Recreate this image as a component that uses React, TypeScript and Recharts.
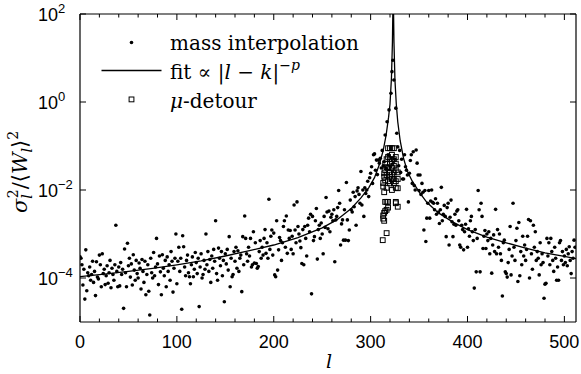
import React from "react";
import { ComposedChart, Scatter, Line, XAxis, YAxis, Legend } from "recharts";

const W = 581;
const H = 374;

// log10 of sigma_l^2/<W_l>^2 from mass interpolation, one value per l
const massLogA = [
  -3.52, -3.55, -3.7, -4.16, -3.8, -4.48, -3.36, -4.29, -3.88, -3.95,
  -3.75, -4.05, -3.92, -3.62, -4.1, -3.85, -4.4, -3.63, -3.98, -4.02,
  -3.48, -3.7, -4.2, -3.45, -3.9, -3.8, -4.15, -3.95, -3.72, -4.12,
  -3.88, -3.6, -4.22, -3.78, -3.92, -4.05, -3.7, -2.8, -3.85, -4.2,
  -3.75, -4.18, -3.65, -3.92, -3.8, -4.69, -3.34, -3.88, -4.2, -3.21,
  -3.72, -3.55, -3.98, -3.68, -4.16, -3.47, -3.82, -4.05, -3.6, -3.9,
  -4.0, -3.66, -3.78, -4.25, -3.58, -3.85, -4.1, -3.62, -4.38, -3.92,
  -3.7, -4.3, -4.84, -3.55, -3.88, -4.0, -3.42, -3.95, -3.75, -3.1,
  -3.68, -4.15, -3.5, -3.86, -4.38, -3.47, -3.78, -3.95, -3.6, -4.2,
  -3.52, -3.85, -3.7, -4.05, -3.4, -3.62, -4.32, -3.78, -3.55, -3.0,
  -4.13, -3.62, -3.3, -3.85, -3.55, -4.71, -3.04, -3.29, -3.75, -3.95,
  -3.6, -3.48, -3.88, -3.97, -4.13, -3.7, -3.52, -3.97, -3.8, -3.42,
  -3.65, -3.9, -3.55, -4.65, -3.75, -3.45, -4.0, -3.92, -3.6, -3.8,
  -3.0, -3.7, -3.4, -3.85, -3.58, -4.1, -3.5, -3.78, -3.35, -3.62,
  -2.7, -3.9, -4.05, -3.32, -3.55, -3.72, -3.4, -3.95, -3.6, -4.54,
  -3.45, -3.68, -3.35, -3.82, -3.06, -4.2, -3.55, -3.97, -3.92, -3.4,
  -3.62, -3.3, -3.78, -3.38, -3.85, -3.55, -3.48, -4.31, -3.06, -3.7,
  -2.59, -3.1, -3.45, -3.62, -3.3, -3.5, -3.1, -3.75, -3.7, -2.95,
  -3.66, -3.2, -3.67, -3.78, -3.74, -3.4, -3.15, -3.55, -3.3, -3.48,
  -3.1, -2.9, -3.44, -3.2, -3.55, -2.21, -3.35, -3.05, -2.91, -3.48,
  -2.98, -3.93, -3.97, -2.7, -3.82, -3.36, -3.08, -3.15, -3.6, -3.2,
  -2.83, -2.7, -3.3, -2.59, -3.44, -2.91, -3.1, -2.92, -3.35, -3.05,
  -3.45, -2.34, -2.91, -3.2, -2.27, -2.83, -3.0, -3.16, -3.31, -3.67,
  -2.9, -3.7, -2.83, -3.1, -3.5, -2.8, -2.64, -2.95, -2.55, -4.36,
  -2.6, -3.15, -3.06, -2.7, -2.42, -3.57, -2.9, -2.8, -3.1, -2.75,
  -3.0, -3.45, -2.6, -2.85, -2.17, -2.5, -2.88, -2.48, -2.95, -2.62,
  -2.55, -2.7, -2.45, -3.63, -2.68, -2.6, -2.4, -2.01, -2.3, -3.25,
  -2.77, -2.68, -3.14, -2.45, -3.14, -1.83, -2.68, -3.15, -2.91, -2.23,
  -2.45, -2.5, -2.05, -2.38, -2.15, -2.8, -2.02, -1.95, -2.1, -2.3,
  -1.58, -2.34, -2.0, -2.6, -1.95, -2.08, -2.0, -1.8, -2.15, -1.72,
];
const massLogB = [
  -1.62, -1.47, -1.85, -1.2, -1.18, -1.55, -1.32, -1.65, -1.32, -1.39,
  -1.28, -1.5, -1.1, -1.45, -1.36, -0.75,
  -1.5, -0.45, -1.2, -0.18, -1.45, 0.2, 0.69, 0.95, 0.5, -1.3, -0.14, -0.71, -1.02, -1.45, -1.1, -1.6,
  -1.3, -1.75, -1.75, -1.2, -1.47, -1.55, -1.66, -2.27,
  -1.62, -1.33, -1.2, -1.85, -1.13, -1.9, -2.0, -1.09, -1.39, -1.66,
];
const massLogC = [
  -2.01, -1.66, -2.1, -1.85, -2.05, -2.91, -2.01, -3.17, -2.64, -2.3,
  -2.01, -2.64, -2.25, -2.0, -2.28, -2.3, -2.45, -2.2, -2.55, -2.3,
  -2.5, -2.76, -2.45, -1.94, -2.7, -2.55, -2.35, -2.6, -3.06, -2.4,
  -2.3, -3.25, -2.62, -2.23, -2.72, -3.06, -2.78, -2.55, -2.8, -2.48,
  -2.45, -2.7, -3.25, -3.3, -2.8, -2.9, -3.36, -2.95, -2.78, -2.44,
  -3.3, -2.88, -3.05, -2.7, -2.6, -2.95, -3.15, -4.23, -2.9, -3.86,
  -3.1, -2.01, -2.45, -3.86, -2.3, -2.6, -3.33, -3.05, -2.92, -3.33,
  -3.0, -3.15, -2.95, -3.45, -3.1, -3.89, -3.25, -3.02, -3.4, -2.44,
  -3.45, -2.9, -3.3, -3.0, -3.45, -3.6, -4.41, -3.2, -3.14, -3.86,
  -3.9, -3.98, -3.65, -3.35, -2.83, -3.93, -3.5, -2.3, -3.3, -3.6,
  -3.15, -2.87, -4.08, -2.74, -3.95, -3.4, -3.7, -3.05, -3.5, -3.25,
  -3.6, -3.35, -3.05, -2.67, -4.0, -2.7, -3.45, -3.8, -2.8, -3.3,
  -2.95, -3.6, -3.4, -3.55, -3.93, -3.2, -3.7, -3.45, -3.65, -4.46,
  -4.14, -4.12, -3.1, -3.5, -3.2, -3.7, -3.1, -3.4, -3.6, -3.85,
  -3.3, -3.55, -4.05, -3.75, -4.05, -3.2, -3.15, -3.6, -3.4, -3.7,
  -3.5, -3.65, -3.35, -3.72, -3.45, -3.29, -3.6, -3.9, -3.4, -3.55, -3.14, -3.3,
];

// fit line: [l, log10 value]
const fitPoints: [number, number][] = [
  [0, -3.97], [25, -3.91], [50, -3.85], [75, -3.78], [100, -3.7], [125, -3.61],
  [150, -3.5], [175, -3.38], [200, -3.25], [225, -3.08], [250, -2.86], [265, -2.68],
  [280, -2.42], [290, -2.18], [298, -1.95], [304, -1.72], [309, -1.42], [313, -1.1],
  [316, -0.75], [318.5, -0.35], [320, -0.05], [321.5, 0.55], [322.5, 1.35], [323.3, 2.6],
  [324.1, 1.35], [325.1, 0.5], [326.5, -0.05], [328, -0.45], [330.5, -0.88], [334, -1.28],
  [338, -1.58], [343, -1.8], [350, -2.04], [358, -2.28], [370, -2.52], [385, -2.73],
  [400, -2.9], [420, -3.07], [440, -3.2], [460, -3.32], [480, -3.43], [500, -3.51], [512, -3.56],
];

// mu-detour squares: [l, log10 value]
const detourPoints: [number, number][] = [
  [312.5, -3.14], [313, -2.65], [313, -2.58], [313, -1.84], [313, -1.92],
  [314, -2.7], [314, -2.52], [314, -2.05], [314, -1.7], [314, -1.62],
  [315, -2.27], [315, -2.48], [315, -1.78], [315, -1.55], [315, -1.4],
  [316.5, -2.98], [316.5, -2.45], [316.5, -2.27], [316.5, -1.95], [316.5, -1.66], [316.5, -1.3], [316.5, -1.48],
  [318, -2.27], [318, -2.4], [318, -1.8], [318, -1.5], [318, -1.25], [318, -1.05],
  [320, -1.05], [320, -1.4], [320, -1.6], [320, -1.85], [320, -1.7], [320, -1.3],
  [322, -1.05], [322, -1.5], [322, -1.65], [322, -1.35], [322, -1.2], [322, -1.75], [322, -2.0],
  [324, -1.05], [324, -1.3], [324, -1.45], [324, -1.6], [324, -1.85], [324, -1.75],
  [326, -2.3], [326, -2.27], [326, -1.95], [326, -1.8], [326, -1.55], [326, -1.4], [326, -1.25],
  [328, -2.38], [328, -1.96], [328, -1.75], [328, -1.6],
];

const xTicks = [0, 20, 40, 60, 80, 100, 120, 140, 160, 180, 200, 220, 240, 260, 280, 300, 320, 340, 360, 380, 400, 420, 440, 460, 480, 500];
const yTicks = [100, 1, 0.01, 0.0001];
const yExp: Record<string, string> = { "100": "2", "1": "0", "0.01": "\u22122", "0.0001": "\u22124" };

const massData = [...massLogA, ...massLogB, ...massLogC].map((L, i) => ({ l: i, v: Math.pow(10, L) }));
const fitData = fitPoints.map(([l, L]) => ({ l, v: Math.pow(10, L) }));
const detourData = detourPoints.map(([l, L]) => ({ l, v: Math.pow(10, L) }));

const SANS = "Liberation Sans, Arial, Helvetica, sans-serif";
const SERIF = "DejaVu Serif, Liberation Serif, serif";
const serif = { fontFamily: SERIF };

const BottomTick = (p: any) => {
  const { x, y, payload } = p;
  const major = payload.value % 100 === 0;
  return (
    <g>
      <line x1={x} x2={x} y1={y} y2={y - (major ? 6 : 3.5)} stroke="#000" strokeWidth={1} />
      {major && (
        <text x={x} y={y + 26} textAnchor="middle" style={{ fontFamily: SANS }} fontSize={18} fill="#000">
          {payload.value}
        </text>
      )}
    </g>
  );
};

const TopTick = (p: any) => {
  const { x, y, payload } = p;
  const major = payload.value % 100 === 0;
  return <line x1={x} x2={x} y1={y} y2={y + (major ? 6 : 3.5)} stroke="#000" strokeWidth={1} />;
};

const LeftTick = (p: any) => {
  const { x, y, payload } = p;
  return (
    <g>
      <line x1={x} x2={x + 6} y1={y} y2={y} stroke="#000" strokeWidth={1} />
      <text x={x - 42} y={y + 7} style={{ fontFamily: SANS }} fontSize={18} fill="#000">
        10
        <tspan dy={-8} fontSize={13}>
          {yExp[String(payload.value)]}
        </tspan>
      </text>
    </g>
  );
};

const RightTick = (p: any) => {
  const { x, y } = p;
  return <line x1={x} x2={x - 6} y1={y} y2={y} stroke="#000" strokeWidth={1} />;
};

const YLabel = () => (
  <text transform="translate(27,213) rotate(-90)" style={serif} fontSize={21} fill="#000">
    <tspan fontStyle="italic">σ</tspan>
    <tspan fontSize={14} fontStyle="italic" dy={5}>l</tspan>
    <tspan fontSize={14} dx={-4} dy={-14}>2</tspan>
    <tspan dy={9}>/⟨</tspan>
    <tspan fontStyle="italic">W</tspan>
    <tspan fontSize={14} fontStyle="italic" dy={5}>l</tspan>
    <tspan dy={-5}>⟩</tspan>
    <tspan fontSize={14} dy={-9}>2</tspan>
  </text>
);

const XLabel = () => (
  <text x={329} y={368} textAnchor="middle" style={serif} fontStyle="italic" fontSize={19} fill="#000">
    l
  </text>
);

const MassDot = (p: any) => <circle cx={p.cx} cy={p.cy} r={1.8} fill="#000" />;
const DetourSquare = (p: any) => (
  <rect x={p.cx - 2.4} y={p.cy - 2.4} width={4.8} height={4.8} fill="none" stroke="#000" strokeWidth={1} />
);

const LegendBox = () => (
  <svg width={W} height={120} style={{ display: "block", overflow: "visible" }}>
    <g style={serif} fontSize={20} fill="#000">
      <circle cx={131.5} cy={42.5} r={1.8} fill="#000" />
      <text x={170} y={50} style={serif}>mass interpolation</text>
      <line x1={101.5} x2={161.5} y1={70.5} y2={70.5} stroke="#000" strokeWidth={1.3} />
      <text x={170} y={79} style={serif}>
        fit ∝ |<tspan fontStyle="italic">l</tspan> − <tspan fontStyle="italic">k</tspan>|
        <tspan dy={-9} fontSize={14}>
          −<tspan fontStyle="italic">p</tspan>
        </tspan>
      </text>
      <rect x={129.1} y={97} width={4.8} height={4.8} fill="none" stroke="#000" strokeWidth={1} />
      <text x={170} y={108} style={serif}>
        <tspan fontStyle="italic">μ</tspan>-detour
      </text>
    </g>
  </svg>
);

export default function App() {
  return (
    <div style={{ position: "absolute", left: 0, top: 0, width: W, height: H, background: "#fff" }}>
      <ComposedChart width={W} height={H} margin={{ top: 0, right: 0, bottom: 0, left: 0 }}>
        <XAxis
          dataKey="l"
          type="number"
          domain={[0, 512]}
          ticks={xTicks}
          interval={0}
          allowDataOverflow
          height={52}
          tickSize={0}
          tickMargin={0}
          tickLine={false}
          tick={BottomTick}
          axisLine={{ stroke: "#000", strokeWidth: 1.2 }}
          label={<XLabel />}
        />
        <XAxis
          xAxisId="t"
          orientation="top"
          dataKey="l"
          type="number"
          domain={[0, 512]}
          ticks={xTicks}
          interval={0}
          allowDataOverflow
          height={14}
          tickSize={0}
          tickMargin={0}
          tickLine={false}
          tick={TopTick}
          axisLine={{ stroke: "#000", strokeWidth: 1.2 }}
        />
        <YAxis
          dataKey="v"
          scale="log"
          type="number"
          domain={[1e-5, 100]}
          ticks={yTicks}
          interval={0}
          allowDataOverflow
          width={80}
          tickSize={0}
          tickMargin={0}
          tickLine={false}
          tick={LeftTick}
          axisLine={{ stroke: "#000", strokeWidth: 1.2 }}
          label={<YLabel />}
        />
        <YAxis
          yAxisId="r"
          orientation="right"
          dataKey="v"
          scale="log"
          type="number"
          domain={[1e-5, 100]}
          ticks={yTicks}
          interval={0}
          allowDataOverflow
          width={5}
          tickSize={0}
          tickMargin={0}
          tickLine={false}
          tick={RightTick}
          axisLine={{ stroke: "#000", strokeWidth: 1.2 }}
        />
        <Legend
          layout="vertical"
          align="center"
          verticalAlign="middle"
          content={<LegendBox />}
          wrapperStyle={{ left: 0, top: 0, width: W, height: 120, pointerEvents: "none" }}
        />
        <Scatter name="mass interpolation" data={massData} shape={MassDot} isAnimationActive={false} />
        <Line
          name="fit"
          data={fitData}
          dataKey="v"
          type="linear"
          stroke="#000"
          strokeWidth={1.3}
          dot={false}
          activeDot={false}
          isAnimationActive={false}
        />
        <Scatter name="mu-detour" data={detourData} shape={DetourSquare} isAnimationActive={false} />
      </ComposedChart>
    </div>
  );
}
